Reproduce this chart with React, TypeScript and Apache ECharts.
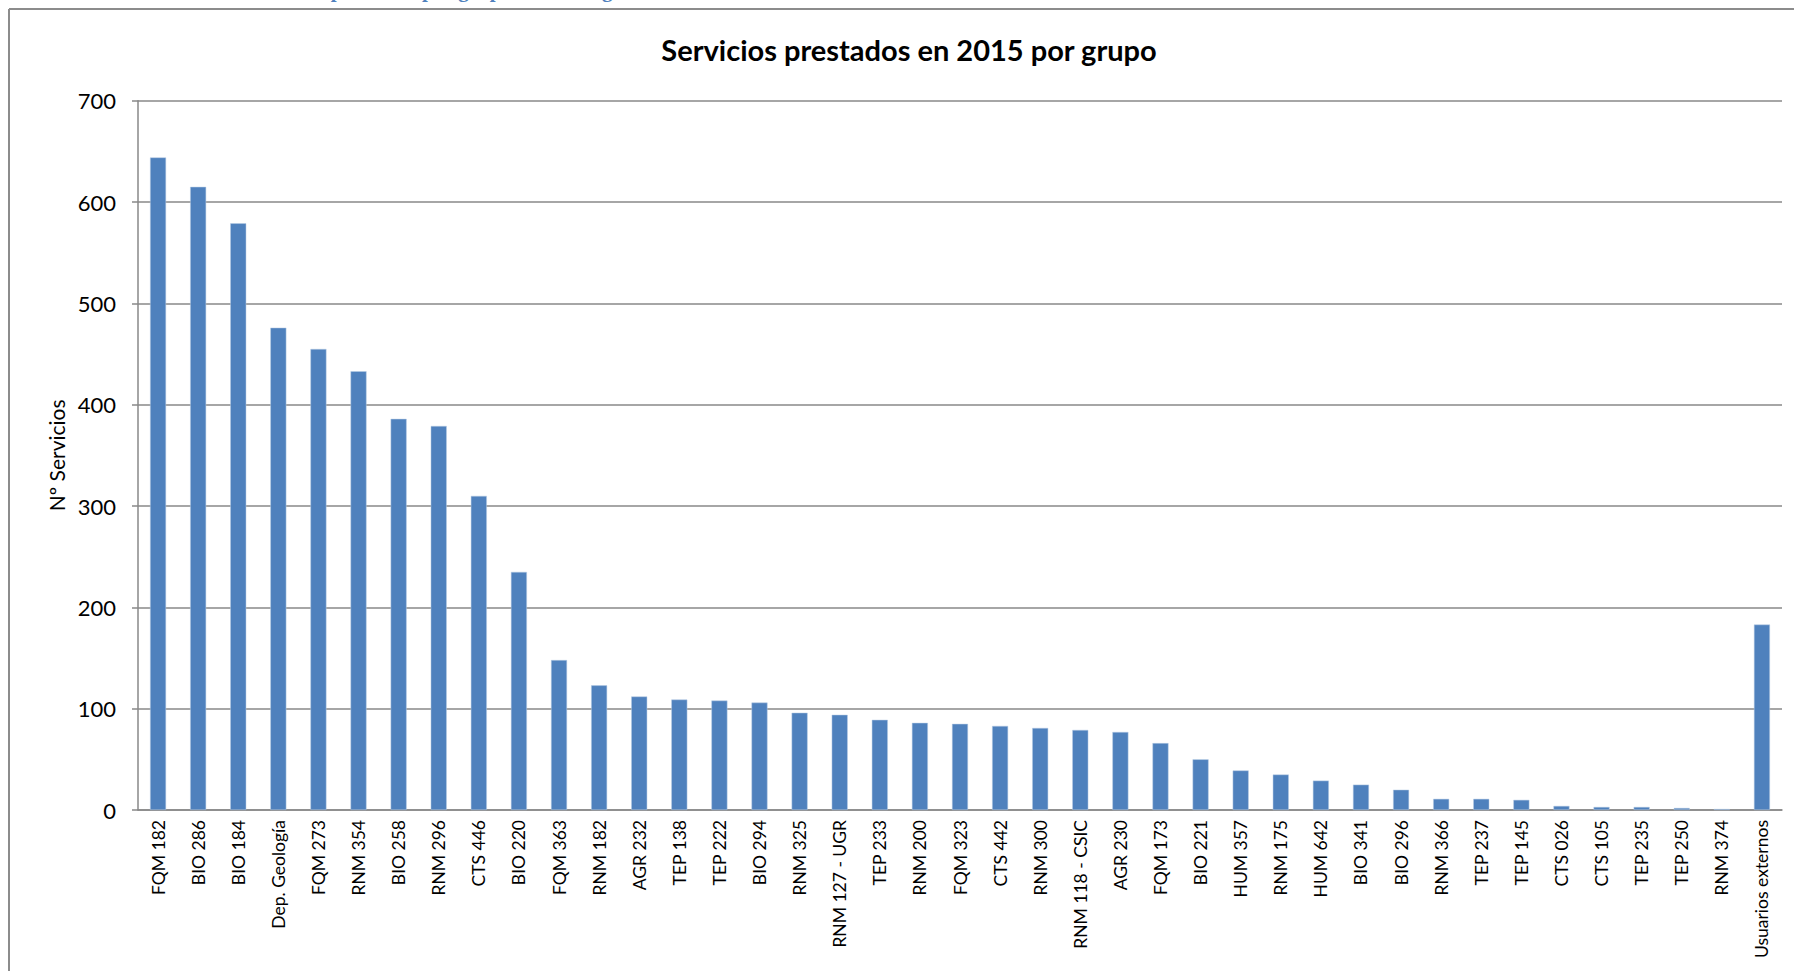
import React, { useEffect, useRef } from "react";
import * as echarts from "echarts";

const categories = [
  "FQM 182", "BIO 286", "BIO 184", "Dep. Geología", "FQM 273", "RNM 354", "BIO 258", "RNM 296",
  "CTS 446", "BIO 220", "FQM 363", "RNM 182", "AGR 232", "TEP 138", "TEP 222", "BIO 294",
  "RNM 325", "RNM 127 - UGR", "TEP 233", "RNM 200", "FQM 323", "CTS 442", "RNM 300",
  "RNM 118 - CSIC", "AGR 230", "FQM 173", "BIO 221", "HUM 357", "RNM 175", "HUM 642",
  "BIO 341", "BIO 296", "RNM 366", "TEP 237", "TEP 145", "CTS 026", "CTS 105", "TEP 235",
  "TEP 250", "RNM 374", "Usuarios externos",
];

const servicios = [
  644, 615, 579, 476, 455, 433, 386, 379,
  310, 235, 148, 123, 112, 109, 108, 106,
  96, 94, 89, 86, 85, 83, 81,
  79, 77, 66, 50, 39, 35, 29,
  25, 20, 11, 11, 10, 4, 3, 3,
  2, 1, 183,
];

const title = "Servicios prestados en 2015 por grupo";
const yAxisName = "Nº Servicios";
const headingText = "Gráfico 3. Servicios prestados por grupo de investigación";

export default function App() {
  const ref = useRef<HTMLDivElement>(null);
  useEffect(() => {
    document.body.style.margin = "0";
    const chart = echarts.init(ref.current!, null, { renderer: "svg" });
    chart.setOption({
      animation: false,
      backgroundColor: "#ffffff",
      grid: { left: 138, right: 12, top: 100.7, bottom: 161, containLabel: false },
      xAxis: {
        type: "category",
        data: categories,
        axisLine: { lineStyle: { color: "#888888", width: 1.5 } },
        axisTick: { show: false },
        axisLabel: {
          rotate: 90,
          interval: 0,
          margin: 10,
          color: "#000",
          fontFamily: "Lato",
          fontSize: 17.5,
        },
      },
      yAxis: {
        type: "value",
        min: 0,
        max: 700,
        interval: 100,
        name: yAxisName,
        nameLocation: "middle",
        nameRotate: 90,
        nameGap: 70,
        nameTextStyle: { color: "#000", fontFamily: "Lato", fontSize: 21 },
        axisLine: { show: true, lineStyle: { color: "#888888", width: 1.5 } },
        axisTick: { show: true, length: 6, lineStyle: { color: "#888888", width: 1.5 } },
        splitLine: { show: true, lineStyle: { color: "#888888", width: 1.5 } },
        axisLabel: { margin: 22, color: "#000", fontFamily: "Lato", fontSize: 22 },
      },
      series: [
        {
          type: "bar",
          data: servicios,
          barWidth: 16,
          itemStyle: { color: "#4f81bd", borderColor: "#b9cde5", borderWidth: 0.5 },
        },
      ],
      graphic: [
        {
          type: "line",
          shape: { x1: 9, y1: 9, x2: 1794, y2: 9 },
          style: { stroke: "#8c8c8c", lineWidth: 2 },
        },
        {
          type: "line",
          shape: { x1: 9, y1: 9, x2: 9, y2: 971 },
          style: { stroke: "#8c8c8c", lineWidth: 2 },
        },
        {
          type: "text",
          x: 909,
          y: 49,
          style: {
            text: title,
            textAlign: "center",
            textVerticalAlign: "middle",
            font: "bold 29px Lato",
            fill: "#000",
          },
        },
        {
          type: "text",
          x: 150,
          y: 0,
          style: {
            text: headingText,
            textAlign: "left",
            textVerticalAlign: "bottom",
            font: "bold 21px 'Liberation Serif'",
            fill: "#4f81bd",
          },
        },
      ],
    });
    return () => chart.dispose();
  }, []);
  return <div ref={ref} style={{ position: "fixed", left: 0, top: 0, width: 1794, height: 971 }} />;
}
